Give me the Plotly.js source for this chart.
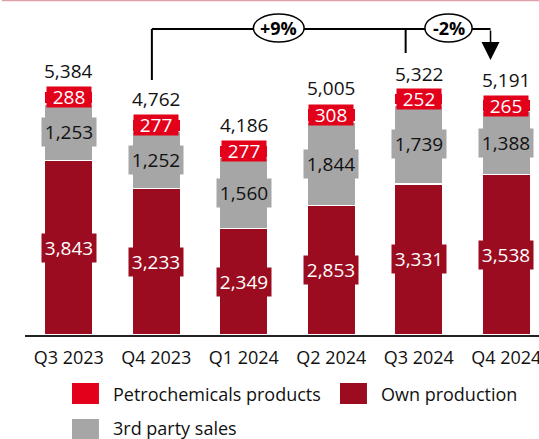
<!DOCTYPE html>
<html><head><meta charset="utf-8">
<script src="https://cdn.plot.ly/plotly-3.0.1.min.js"></script>
<style>html,body{margin:0;padding:0;background:#fff}#chart{width:539px;height:439px}</style>
</head><body><div id="chart"></div>
<script>
const categories = ['Q3 2023','Q4 2023','Q1 2024','Q2 2024','Q3 2024','Q4 2024'];
const ownProduction = [3843,3233,2349,2853,3331,3538];
const thirdPartySales = [1253,1252,1560,1844,1739,1388];
const petrochemicals = [288,277,277,308,252,265];
const totals = [5384,4762,4186,5005,5322,5191];
const seriesNames = ['Petrochemicals products','Own production','3rd party sales'];

const C_OWN = '#9B0C20', C_PETRO = '#E2001A', C_GRAY = '#A6A6A6';
const FONT = 'Open Sans, Noto Sans, sans-serif';
const fmt = v => v.toLocaleString('en-US');

const barLine = {color:'#ffffff', width:1.5};
const traces = [
  {type:'bar', name:seriesNames[1], x:categories, y:ownProduction, marker:{color:C_OWN, line:barLine}, showlegend:false, hoverinfo:'skip'},
  {type:'bar', name:seriesNames[2], x:categories, y:thirdPartySales, marker:{color:C_GRAY, line:barLine}, showlegend:false, hoverinfo:'skip'},
  {type:'bar', name:seriesNames[0], x:categories, y:petrochemicals, marker:{color:C_PETRO, line:barLine}, showlegend:false, hoverinfo:'skip'}
];

const annotations = [];
const shapes = [];
categories.forEach((c,i) => {
  const o = ownProduction[i], t = thirdPartySales[i], p = petrochemicals[i];
  annotations.push({x:c, y:o/2, xref:'x', yref:'y', text:fmt(o), showarrow:false,
    font:{family:FONT, size:19, color:'#ffffff'}, bgcolor:C_OWN, borderpad:1, width:52});
  annotations.push({x:c, y:o + t/2, xref:'x', yref:'y', text:fmt(t), showarrow:false,
    font:{family:FONT, size:19, color:'#111111'}, bgcolor:C_GRAY, borderpad:1, width:52});
  annotations.push({x:c, y:o + t + p/2, xref:'x', yref:'y', text:fmt(p), showarrow:false,
    font:{family:FONT, size:19, color:'#ffffff'}, bgcolor:C_PETRO, borderpad:0, width:44, height:20});
  annotations.push({x:c, y:totals[i], xref:'x', yref:'y', text:fmt(totals[i]), showarrow:false,
    yanchor:'bottom', yshift:5, font:{family:FONT, size:19, color:'#111111'}});
});

// growth bracket
const yoy = Math.round((totals[5]/totals[1]-1)*100);
const qoq = Math.round((totals[5]/totals[4]-1)*100);
const pct = g => (g>0?'+':'') + g + '%';
const yBr = 6746;
const lineS = {color:'#000000', width:2};
shapes.push({type:'line', xref:'x', yref:'y', x0:0.95, x1:0.95, y0:5622, y1:yBr, line:lineS});
shapes.push({type:'line', xref:'x', yref:'y', x0:0.95, x1:4.82, y0:yBr, y1:yBr, line:lineS});
shapes.push({type:'line', xref:'x', yref:'y', x0:3.85, x1:3.85, y0:yBr, y1:6217, line:lineS});
shapes.push({type:'circle', xref:'x', yref:'y', x0:2.11, x1:2.69, y0:6460, y1:7075, fillcolor:'#ffffff', line:{color:'#000000', width:1.5}});
shapes.push({type:'circle', xref:'x', yref:'y', x0:4.07, x1:4.61, y0:6460, y1:7075, fillcolor:'#ffffff', line:{color:'#000000', width:1.5}});
annotations.push({x:2.40, y:(6460+7075)/2, xref:'x', yref:'y', text:'<b>'+pct(yoy)+'</b>', showarrow:false,
  font:{family:FONT, size:18, color:'#000000'}});
annotations.push({x:4.34, y:(6460+7075)/2, xref:'x', yref:'y', text:'<b>'+pct(qoq)+'</b>', showarrow:false,
  font:{family:FONT, size:18, color:'#000000'}});
annotations.push({x:4.82, y:6063, ax:4.82, ay:yBr, xref:'x', yref:'y', axref:'x', ayref:'y', text:'',
  showarrow:true, arrowhead:2, arrowsize:2.4, arrowwidth:1.5, arrowcolor:'#000000'});

// top rule
shapes.push({type:'line', xref:'paper', yref:'paper', x0:-0.045, x1:1, y0:1.0292, y1:1.0292, line:{color:'#E0A0AA', width:1.5}});

// legend (custom, large swatches)
const legendItems = [
  {name:seriesNames[0], color:C_PETRO, x0:0.0914, y0:-0.2123},
  {name:seriesNames[1], color:C_OWN, x0:0.6128, y0:-0.2123},
  {name:seriesNames[2], color:C_GRAY, x0:0.0914, y0:-0.323}
];
legendItems.forEach(it => {
  shapes.push({type:'rect', xref:'paper', yref:'paper', x0:it.x0, x1:it.x0+0.0525, y0:it.y0, y1:it.y0+0.0646,
    fillcolor:it.color, line:{width:0}});
  annotations.push({xref:'paper', yref:'paper', x:it.x0+0.0759, y:it.y0+0.0323 + (it.y0 < -0.3 ? 0.006 : 0), xanchor:'left', yanchor:'middle',
    text:it.name, showarrow:false, font:{family:FONT, size:18, color:'#111111'}});
});

const layout = {
  width:539, height:439,
  margin:{l:25, r:0, t:10, b:104},
  paper_bgcolor:'#ffffff', plot_bgcolor:'#ffffff',
  barmode:'stack', bargap:0.45,
  showlegend:false,
  font:{family:FONT, size:18, color:'#111111'},
  xaxis:{type:'category', range:[-0.5, 5.374], showline:true, linecolor:'#222222', linewidth:1.5,
    showgrid:false, zeroline:false, ticks:'', ticklabelstandoff:6,
    tickfont:{family:FONT, size:18, color:'#111111'}, fixedrange:true},
  yaxis:{visible:false, range:[0, 7165], showgrid:false, zeroline:false, fixedrange:true},
  shapes:shapes,
  annotations:annotations
};

Plotly.newPlot('chart', traces, layout, {displayModeBar:false, staticPlot:true});
</script>
</body></html>
